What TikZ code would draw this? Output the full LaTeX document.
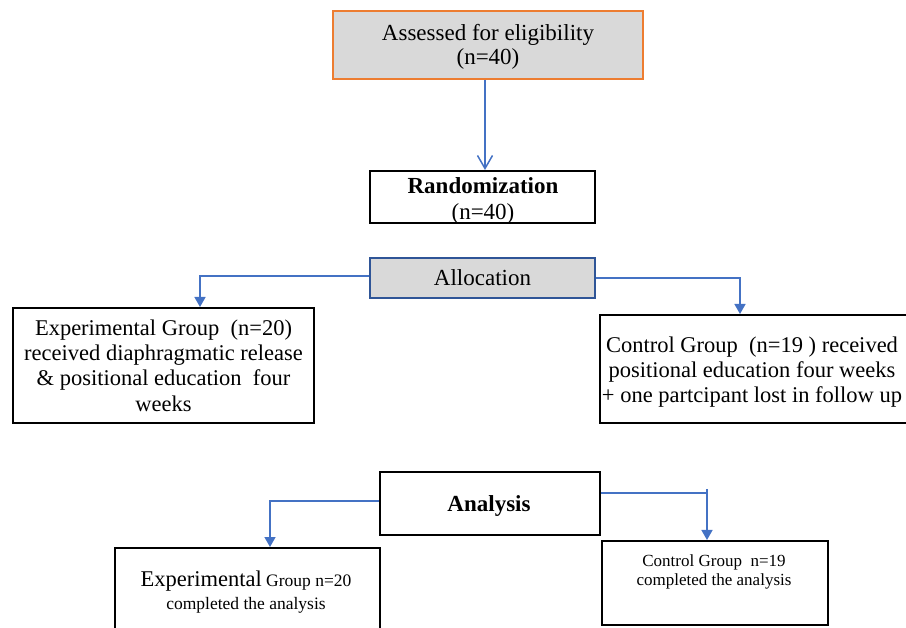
\documentclass[tikz,border=0pt]{standalone}
\usepackage{fontspec}
\setmainfont{Liberation Serif}
\usetikzlibrary{arrows.meta,calc}
\definecolor{orng}{HTML}{ED7D31}
\definecolor{boxgray}{HTML}{D9D9D9}
\definecolor{conblue}{HTML}{4472C4}
\definecolor{allocblue}{HTML}{2F5597}
\begin{document}
\begin{tikzpicture}[x=1pt,y=-1pt,
  box/.style={draw=black,line width=2pt,rectangle,inner sep=0pt,align=center,font=\fontsize{23}{24.5}\selectfont},
  txt/.style={inner sep=0pt,align=center},
  conn/.style={draw=conblue,line width=1.5pt},
  tip/.style={-{Triangle[width=11pt,length=10pt]}},
  vtip/.style={-{Straight Barb[width=15pt,length=13pt,line width=1.5pt]}}]
\useasboundingbox (0,0) rectangle (906,628);
\node[box,draw=orng,fill=boxgray,minimum width=310pt,minimum height=68pt] (assess) at (488,45) {};
\node[txt,font=\fontsize{23}{24.5}\selectfont] (assesstxt) at (488,47) {Assessed for eligibility\\(n=40)};
\node[box,minimum width=225pt,minimum height=52pt] (rand) at (482.5,197) {};
\node[txt,font=\fontsize{23}{26}\selectfont] (randtxt) at (483,201) {\textbf{Randomization}\\(n=40)};
\node[box,draw=allocblue,fill=boxgray,minimum width=225pt,minimum height=40pt] (alloc) at (482.5,278) {Allocation};
\node[box,minimum width=301pt,minimum height=115pt,font=\fontsize{22.5}{25.3}\selectfont] (exp) at (163.5,365.5) {Experimental Group\ \ (n=20)\\received diaphragmatic release\\\&~positional education\ \ four\\weeks};
\node[box,minimum width=310pt,minimum height=108pt] (ctrl) at (755,369) {};
\node[txt,font=\fontsize{22.5}{25}\selectfont] (ctrltxt) at (752,372) {Control Group\ \ (n=19 ) received\\positional education four weeks\\+ one partcipant lost in follow up};
\node[box,minimum width=220pt,minimum height=63pt] (ana) at (490,503.5) {};
\node[txt,font=\fontsize{23}{24.5}\selectfont] (anatxt) at (489,506) {\textbf{Analysis}};
\node[box,minimum width=265pt,minimum height=88pt] (ec) at (247.5,592) {};
\node[txt,font=\fontsize{17.5}{23}\selectfont] (ectxt) at (246,592) {{\fontsize{22.5}{23}\selectfont Experimental} Group n=20\\completed the analysis};
\node[box,minimum width=226pt,minimum height=84pt] (cc) at (715,583) {};
\node[txt,font=\fontsize{17}{19.5}\selectfont] (cctxt) at (714,572) {Control Group\ \ n=19\\completed the analysis};
\draw[conn,vtip] (assess.south -| 485,0) -- (rand.north -| 485,0);
\draw[conn,tip] ([yshift=2pt]alloc.west) -| ([xshift=36.5pt]exp.north);
\draw[conn,tip] (alloc.east) -| ([xshift=-15pt]ctrl.north);
\draw[conn,tip] ([yshift=2.5pt]ana.west) -| ([xshift=22.5pt]ec.north);
\draw[conn,tip] ([yshift=10.5pt]ana.east) -| ([xshift=-8pt]cc.north);
\coordinate (tick) at (707,489);
\draw[conn] (tick) -- ++(0,5);
\end{tikzpicture}
\end{document}
